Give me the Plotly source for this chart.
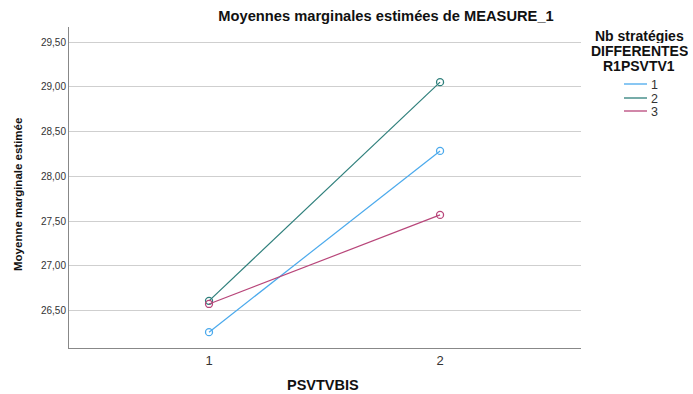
import plotly.graph_objects as go

x_categories = [1, 2]
x_labels = ["1", "2"]
series_names = ["1", "2", "3"]
series_values = [
    [26.26, 28.285],
    [26.61, 29.054],
    [26.575, 27.57],
]
series_colors = ["#4aa9ec", "#2e7f7b", "#b8467a"]
y_ticks = [26.5, 27.0, 27.5, 28.0, 28.5, 29.0, 29.5]

W, H = 693, 394
L, R, T, B = 69, 112, 27, 46
pw = W - L - R
ph = H - T - B

def px_x(p):
    return (p - L) / pw

def px_y(p):
    return (H - B - p) / ph

fig = go.Figure()
for name, vals, col in zip(series_names, series_values, series_colors):
    fig.add_trace(go.Scatter(
        x=x_categories, y=vals, name=name, mode="lines+markers",
        line=dict(color=col, width=1.2),
        marker=dict(symbol="circle-open", size=7, color=col, line=dict(width=1.3)),
        showlegend=False,
    ))

F = "Liberation Sans, Arial, sans-serif"
annotations = [
    dict(text="<b>PSVTVBIS</b>", x=px_x(323), y=px_y(385), xref="paper", yref="paper",
         showarrow=False, xanchor="center", yanchor="middle", font=dict(size=14.5, color="#111", family=F)),
    dict(text="<b>Moyenne marginale estimée</b>", x=px_x(18), y=px_y(195), xref="paper", yref="paper",
         showarrow=False, xanchor="center", yanchor="middle", textangle=-90,
         font=dict(size=11.5, color="#111", family=F)),
]
# legend title
for txt, yy in zip(["Nb stratégies", "DIFFERENTES", "R1PSVTV1"], [36.5, 51.5, 66.5]):
    annotations.append(dict(text="<b>" + txt + "</b>", x=px_x(639), y=px_y(yy), xref="paper", yref="paper",
                            showarrow=False, xanchor="center", yanchor="middle", height=14,
                            font=dict(size=14.0, color="#111", family=F)))
shapes = []
for name, col, yy in zip(series_names, series_colors, [84, 98, 111]):
    shapes.append(dict(type="line", xref="paper", yref="paper", x0=px_x(624), x1=px_x(647),
                       y0=px_y(yy), y1=px_y(yy), line=dict(color=col, width=1.3)))
    annotations.append(dict(text=name, x=px_x(649), y=px_y(yy), xref="paper", yref="paper",
                            showarrow=False, xanchor="left", yanchor="middle", height=13,
                            font=dict(size=12.5, color="#333", family=F)))

fig.update_layout(
    width=W, height=H,
    margin=dict(l=L, r=R, t=T, b=B, autoexpand=False),
    paper_bgcolor="white", plot_bgcolor="white",
    separators=",.",
    font=dict(family=F, color="#222"),
    title=dict(text="<b>Moyennes marginales estimées de MEASURE_1</b>",
               x=386 / W, xanchor="center", y=1 - 16 / H, yanchor="middle",
               font=dict(size=14.7, color="#111", family=F)),
    xaxis=dict(range=[0.394, 2.61], tickvals=x_categories, ticktext=x_labels,
               showgrid=False, zeroline=False, showline=True, linecolor="#888", linewidth=1,
               ticks="", tickfont=dict(size=13, color="#333"), automargin=False),
    yaxis=dict(range=[26.083, 29.67], tickvals=y_ticks, tickformat=".2f",
               showgrid=True, gridcolor="#cfcfcf", gridwidth=1, zeroline=False,
               showline=True, linecolor="#888", linewidth=1, ticks="",
               tickfont=dict(size=10, color="#333"), automargin=False),
    showlegend=False,
    annotations=annotations,
    shapes=shapes,
)
fig.write_html("out.html", config={"displayModeBar": False},
               post_script="document.body.style.margin='0';document.body.style.overflow='hidden';")
